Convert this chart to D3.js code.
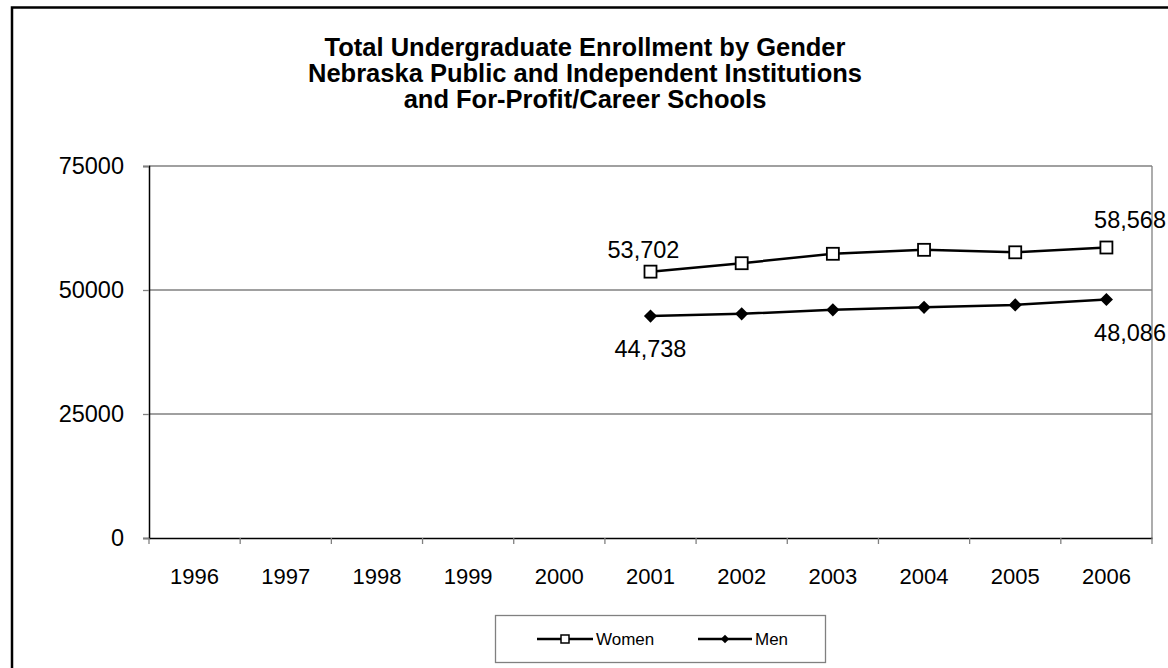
<!DOCTYPE html>
<html>
<head>
<meta charset="utf-8">
<script src="https://cdn.jsdelivr.net/npm/d3@7"></script>
<style>
  html, body { margin: 0; padding: 0; background: #fff; }
  svg { display: block; font-family: "Liberation Sans", Arial, sans-serif; }
</style>
</head>
<body>
<svg id="chart" width="1168" height="668"></svg>
<script>
const titleLines = [
  "Total Undergraduate Enrollment by Gender",
  "Nebraska Public and Independent Institutions",
  "and For-Profit/Career Schools"
];
const years = ["1996","1997","1998","1999","2000","2001","2002","2003","2004","2005","2006"];
const womenYears = ["2001","2002","2003","2004","2005","2006"];
const womenValues = [53702, 55400, 57300, 58100, 57600, 58568];
const menYears = ["2001","2002","2003","2004","2005","2006"];
const menValues = [44738, 45200, 46000, 46500, 47000, 48086];
const yTicks = [0, 25000, 50000, 75000];
const seriesNames = ["Women", "Men"];

const svg = d3.select("#chart");
const plot = {left: 149, right: 1152, top: 166, bottom: 538};

// outer border (left + top visible)
svg.append("path")
  .attr("d", `M12,668 L12,7.5 L1168,7.5`)
  .attr("fill", "none").attr("stroke", "#000").attr("stroke-width", 2.5);

// title
svg.append("g").selectAll("text").data(titleLines).join("text")
  .attr("x", 585).attr("y", (d, i) => 56 + i * 26)
  .attr("text-anchor", "middle")
  .attr("font-size", 25.5).attr("font-weight", "bold")
  .text(d => d);

const x = d3.scaleBand().domain(years).range([plot.left, plot.right]);
const y = d3.scaleLinear().domain([0, 75000]).range([plot.bottom, plot.top]);

// gridlines
svg.append("g").selectAll("line").data(yTicks.filter(t => t > 0)).join("line")
  .attr("x1", plot.left).attr("x2", plot.right)
  .attr("y1", d => y(d)).attr("y2", d => y(d))
  .attr("stroke", "#808080").attr("stroke-width", 1.3);
// right border
svg.append("line").attr("x1", plot.right).attr("x2", plot.right)
  .attr("y1", plot.top).attr("y2", plot.bottom)
  .attr("stroke", "#808080").attr("stroke-width", 1.3);

// y axis
const yAxis = d3.axisLeft(y).tickValues(yTicks).tickSize(6).tickPadding(19).tickFormat(d3.format("d"));
const gy = svg.append("g").attr("transform", `translate(${plot.left},0)`).call(yAxis);
gy.select(".domain").attr("stroke", "#000").attr("stroke-width", 1.5);
gy.selectAll(".tick line").attr("stroke", "#808080").attr("stroke-width", 1.3);
gy.selectAll(".tick text").attr("font-size", 23.5).attr("fill", "#000").attr("font-family", "Liberation Sans, Arial, sans-serif");

// x axis
const xAxis = d3.axisBottom(x).tickSize(0).tickPadding(30);
const gx = svg.append("g").attr("transform", `translate(0,${plot.bottom})`).call(xAxis);
gx.select(".domain").attr("stroke", "#000").attr("stroke-width", 1.5);
gx.selectAll(".tick text").attr("font-size", 22).attr("fill", "#000").attr("font-family", "Liberation Sans, Arial, sans-serif");
// category boundary ticks
const bounds = years.map(d => x(d)).concat([plot.right]);
svg.append("g").selectAll("line").data(bounds).join("line")
  .attr("x1", d => d).attr("x2", d => d)
  .attr("y1", plot.bottom).attr("y2", plot.bottom + 6)
  .attr("stroke", "#808080").attr("stroke-width", 1.3);

const cx = d => x(d) + x.bandwidth() / 2;
const line = d3.line().x(d => cx(d[0])).y(d => y(d[1]));

const women = womenYears.map((d, i) => [d, womenValues[i]]);
const men = menYears.map((d, i) => [d, menValues[i]]);

svg.append("path").datum(women).attr("d", line)
  .attr("fill", "none").attr("stroke", "#000").attr("stroke-width", 2.5);
svg.append("path").datum(men).attr("d", line)
  .attr("fill", "none").attr("stroke", "#000").attr("stroke-width", 2.5);

const sq = 12;
svg.append("g").selectAll("rect").data(women).join("rect")
  .attr("x", d => cx(d[0]) - sq / 2).attr("y", d => y(d[1]) - sq / 2)
  .attr("width", sq).attr("height", sq)
  .attr("fill", "#fff").attr("stroke", "#000").attr("stroke-width", 1.8);

const diamond = d3.symbol().type(d3.symbolDiamond2).size(110);
svg.append("g").selectAll("path").data(men).join("path")
  .attr("transform", d => `translate(${cx(d[0])},${y(d[1])})`)
  .attr("d", diamond).attr("fill", "#000");

// data labels
const fmt = d3.format(",");
const labels = [
  {p: women[0], x: null, dx: -7, dy: -14, anchor: "middle"},
  {p: women[women.length - 1], x: 1166, dx: 0, dy: -20, anchor: "end"},
  {p: men[0], x: null, dx: 0, dy: 41, anchor: "middle"},
  {p: men[men.length - 1], x: 1166, dx: 0, dy: 42, anchor: "end"}
];
svg.append("g").selectAll("text").data(labels).join("text")
  .attr("x", d => d.x !== null ? d.x : cx(d.p[0]) + d.dx)
  .attr("y", d => y(d.p[1]) + d.dy)
  .attr("text-anchor", d => d.anchor).attr("font-size", 23.5)
  .text(d => fmt(d.p[1]));

// legend
const lg = svg.append("g");
lg.append("rect").attr("x", 495.5).attr("y", 615.5).attr("width", 330).attr("height", 47)
  .attr("fill", "#fff").attr("stroke", "#808080").attr("stroke-width", 1.3);
const legendItems = [
  {name: seriesNames[0], x0: 537, x1: 593, tx: 596},
  {name: seriesNames[1], x0: 698, x1: 752, tx: 755}
];
const ly = 639;
legendItems.forEach((it, i) => {
  lg.append("line").attr("x1", it.x0).attr("x2", it.x1).attr("y1", ly).attr("y2", ly)
    .attr("stroke", "#000").attr("stroke-width", 2.5);
  const mx = (it.x0 + it.x1) / 2;
  if (i === 0) {
    lg.append("rect").attr("x", mx - 4).attr("y", ly - 4).attr("width", 8).attr("height", 8)
      .attr("fill", "#fff").attr("stroke", "#000").attr("stroke-width", 1.5);
  } else {
    lg.append("path").attr("transform", `translate(${mx},${ly})`)
      .attr("d", d3.symbol().type(d3.symbolDiamond2).size(45)).attr("fill", "#000");
  }
  lg.append("text").attr("x", it.tx).attr("y", ly + 6).attr("font-size", 17).text(it.name);
});
</script>
</body>
</html>
